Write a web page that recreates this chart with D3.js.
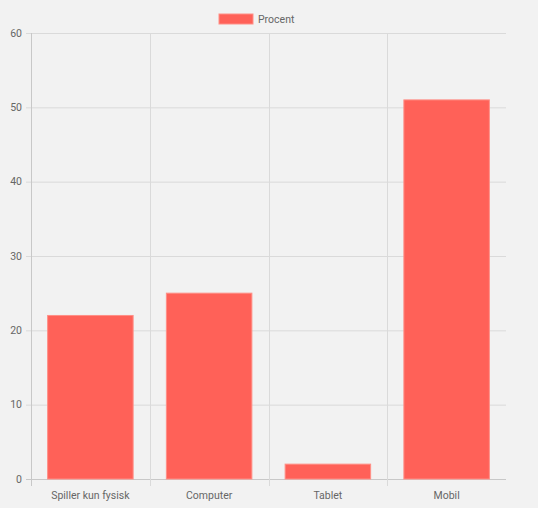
<!DOCTYPE html>
<html>
<head>
<meta charset="utf-8">
<script src="https://d3js.org/d3.v7.min.js"></script>
<style>
  body { margin: 0; background: #f2f2f2; }
  text { font-family: Roboto, "Liberation Sans", Arial, sans-serif; fill: #666; font-size: 10.5px; }
</style>
</head>
<body>
<div id="chart"></div>
<script>
// Data
var categories = ["Spiller kun fysisk", "Computer", "Tablet", "Mobil"];
var procent = [22, 25, 2, 51];
var yTicks = [0, 10, 20, 30, 40, 50, 60];
var seriesName = "Procent";

var W = 538, H = 508;
var margin = {top: 33, right: 32, bottom: 29, left: 31},
    width = W - margin.left - margin.right,
    height = H - margin.top - margin.bottom,
    barColor = "#ff6158",
    gridColor = "#dadada";

var svg = d3.select("#chart").append("svg")
  .attr("width", W)
  .attr("height", H);

var chart = svg.append("g")
  .attr("transform", "translate(" + margin.left + "," + margin.top + ")");

var x = d3.scaleBand().domain(categories).range([0, width]).paddingInner(0).paddingOuter(0);
var y = d3.scaleLinear().domain([0, 60]).range([height, 0]);

// horizontal grid lines + tick marks
chart.selectAll(".hgrid").data(yTicks).enter().append("line")
  .attr("x1", -5).attr("x2", width)
  .attr("y1", function(d) { return y(d) + 0.5; })
  .attr("y2", function(d) { return y(d) + 0.5; })
  .attr("stroke", function(d) { return d === 0 ? "#c8c8c8" : gridColor; });

// vertical grid lines at category boundaries
var bounds = categories.map(function(c) { return x(c); });
chart.selectAll(".vgrid").data(bounds).enter().append("line")
  .attr("x1", function(d) { return Math.round(d) + 0.5; })
  .attr("x2", function(d) { return Math.round(d) + 0.5; })
  .attr("y1", 0).attr("y2", height + 7)
  .attr("stroke", function(d, i) { return i === 0 ? "#c8c8c8" : gridColor; });

// y labels
chart.selectAll(".ylab").data(yTicks).enter().append("text")
  .attr("x", -9)
  .attr("y", function(d) { return y(d); })
  .attr("dy", "0.35em")
  .attr("text-anchor", "end")
  .text(function(d) { return d; });

// x labels
chart.selectAll(".xlab").data(categories).enter().append("text")
  .attr("x", function(d) { return x(d) + x.bandwidth() / 2; })
  .attr("y", height + 16)
  .attr("dy", "0.35em")
  .attr("text-anchor", "middle")
  .text(function(d) { return d; });

// bars
var barW = x.bandwidth() * 0.72;
chart.selectAll(".bar").data(procent).enter().append("rect")
  .attr("x", function(d, i) { return x(categories[i]) + (x.bandwidth() - barW) / 2; })
  .attr("y", function(d) { return y(d); })
  .attr("width", barW)
  .attr("height", function(d) { return height - y(d); })
  .attr("fill", barColor)
  .attr("stroke", "#ff8f86")
  .attr("stroke-width", 1);

// legend
var legend = svg.append("g").attr("transform", "translate(219,14)");
legend.append("rect")
  .attr("width", 34).attr("height", 10)
  .attr("fill", barColor)
  .attr("stroke", "#ff8f86");
legend.append("text")
  .attr("x", 39).attr("y", 5)
  .attr("dy", "0.35em")
  .text(seriesName);
</script>
</body>
</html>
